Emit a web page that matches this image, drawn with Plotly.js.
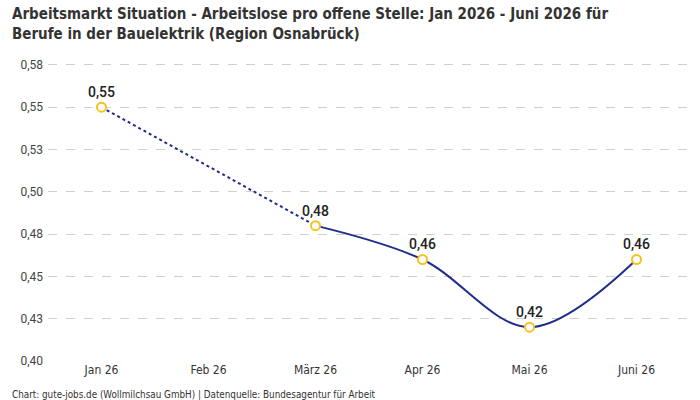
<!DOCTYPE html>
<html>
<head>
<meta charset="utf-8">
<script src="https://cdn.plot.ly/plotly-3.0.1.min.js"></script>
<style>html,body{margin:0;padding:0;background:#fff;}#chart{width:700px;height:400px;}</style>
</head>
<body>
<div id="chart"></div>
<script>
const categories = ['Jan 26','Feb 26','März 26','Apr 26','Mai 26','Juni 26'];
const gapX = ['Jan 26','März 26'];
const gapY = [0.55, 0.48];
const solidX = ['März 26','Apr 26','Mai 26','Juni 26'];
const solidY = [0.48, 0.46, 0.42, 0.46];
const pointX = ['Jan 26','März 26','Apr 26','Mai 26','Juni 26'];
const pointY = [0.55, 0.48, 0.46, 0.42, 0.46];
const pointLabels = ['0,55','0,48','0,46','0,42','0,46'];
const yTickVals = [0.40, 0.425, 0.45, 0.475, 0.50, 0.525, 0.55, 0.575];
const yTickText = ['0,40','0,43','0,45','0,48','0,50','0,53','0,55','0,58'];
const titleText = '<b>Arbeitsmarkt Situation - Arbeitslose pro offene Stelle: Jan 2026 - Juni 2026 für<br>Berufe in der Bauelektrik (Region Osnabrück)</b>';
const footerText = 'Chart: gute-jobs.de (Wollmilchsau GmbH) | Datenquelle: Bundesagentur für Arbeit';

const narrow = '"Liberation Sans Narrow", "DejaVu Sans Condensed", "Roboto", sans-serif';
const navy = '#1f2d8a';
const gold = '#f7c21b';
const plotH = 400 - 48 - 39;
const plotW = 700 - 48 - 10;

const traces = [
  {x: gapX, y: gapY, type: 'scatter', mode: 'lines',
   line: {color: navy, width: 2, dash: 'dot'}, hoverinfo: 'skip', showlegend: false},
  {x: solidX, y: solidY, type: 'scatter', mode: 'lines',
   line: {color: navy, width: 2, shape: 'spline', smoothing: 1}, hoverinfo: 'skip', showlegend: false},
  {x: pointX, y: pointY, type: 'scatter', mode: 'markers+text',
   marker: {size: 9, color: '#ffffff', line: {color: gold, width: 2}},
   text: pointLabels, textposition: 'top center',
   textfont: {family: 'Roboto, sans-serif', size: 14, color: '#222', weight: 500},
   showlegend: false}
];

const layout = {
  width: 700, height: 400,
  margin: {l: 48, r: 10, t: 48, b: 39},
  paper_bgcolor: '#fff', plot_bgcolor: '#fff',
  xaxis: {
    type: 'category', categoryorder: 'array', categoryarray: categories,
    range: [-0.5, 5.5], showgrid: false, zeroline: false, showline: false,
    tickfont: {family: narrow, size: 12, color: '#333'}, ticks: ''
  },
  yaxis: {
    range: [0.40, 0.585], tickvals: yTickVals, ticktext: yTickText,
    showgrid: true, gridcolor: '#d0d0d0', griddash: 'dash', gridwidth: 1,
    zeroline: false, showline: false, ticks: '', ticklabelstandoff: 4,
    tickfont: {family: 'Roboto, sans-serif', size: 12, color: '#444'}
  },
  annotations: [
    {text: titleText, xref: 'paper', yref: 'paper',
     x: -38/plotW, y: 1 + 45/plotH, xanchor: 'left', yanchor: 'top', align: 'left',
     showarrow: false, font: {family: narrow, size: 15, color: '#333'}},
    {text: footerText, xref: 'paper', yref: 'paper',
     x: -38/plotW, y: -26/plotH, xanchor: 'left', yanchor: 'top', align: 'left',
     showarrow: false, font: {family: narrow, size: 9.8, color: '#333'}}
  ]
};

Plotly.newPlot('chart', traces, layout, {displayModeBar: false, staticPlot: true});
</script>
</body>
</html>
